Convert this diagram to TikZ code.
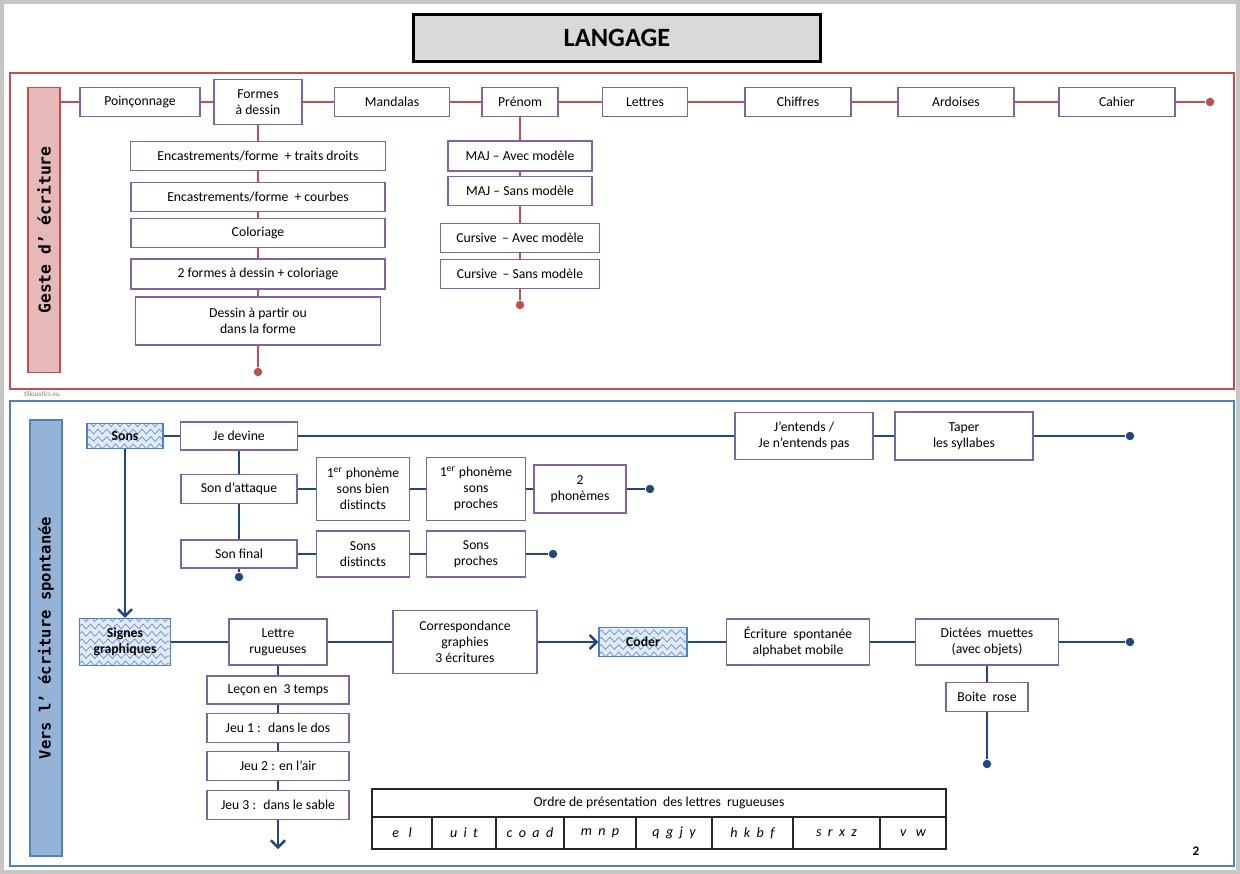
\documentclass[tikz,border=0pt]{standalone}
\usepackage{fontspec}
\setmainfont{Carlito}
\newfontfamily\labelfont{DejaVu Sans Mono}
\usetikzlibrary{arrows.meta,decorations.pathmorphing}

\definecolor{gesteRed}{RGB}{192,80,77}
\definecolor{gestePink}{RGB}{230,185,184}
\definecolor{boxPurple}{RGB}{128,100,162}
\definecolor{versBlue}{RGB}{79,129,189}
\definecolor{versFill}{RGB}{149,179,215}
\definecolor{navy}{RGB}{31,73,125}
\definecolor{hatchBg}{RGB}{225,234,246}
\definecolor{titleGray}{RGB}{217,217,217}

\tikzset{
  box/.style={draw=boxPurple, line width=0.7pt, fill=white, align=center, inner sep=1pt,
    font=\fontsize{7.8}{9.2}\selectfont},
  sz/.style 2 args={minimum width=#1*0.02cm, minimum height=#2*0.02cm},
  redline/.style={gesteRed, line width=1.2pt},
  blueline/.style={navy, line width=1.4pt},
  bluearrow/.style={navy, line width=1.4pt, -{Straight Barb[length=4pt, width=8pt]}},
  reddot/.style={circle, fill=gesteRed, inner sep=0pt, minimum size=0.17cm},
  bluedot/.style={circle, fill=navy, inner sep=0pt, minimum size=0.17cm},
  hatch/.style={draw=versBlue, line width=0.7pt, fill=hatchBg, align=center, inner sep=1pt,
    font=\fontsize{7.8}{9.2}\selectfont\bfseries,
    path picture={
      \foreach \k in {1,...,7}
        \draw[versBlue!85, line width=0.4pt, decorate,
              decoration={zigzag, segment length=5pt, amplitude=1.4pt}]
          ([yshift=\k*4.2pt-3pt]path picture bounding box.south west)
          -- ([yshift=\k*4.2pt-3pt]path picture bounding box.south east);
    }},
  cell/.style={draw=black!85, line width=0.6pt, inner sep=0pt,
    font=\fontsize{7.8}{9}\selectfont},
  letters/.style={cell, font=\fontsize{8}{9}\selectfont\itshape}
}

\begin{document}
\begin{tikzpicture}[x=0.02cm, y=-0.02cm]
\useasboundingbox[fill=white] (0,0) rectangle (1240,874);
\draw[gray!45, line width=2pt] (2,2) rectangle (1238,872);

% titre
\node[draw=black, line width=1.6pt, fill=titleGray, sz={407}{47},
  font=\fontsize{15}{18}\selectfont\bfseries] (titre) at (617,38) {LANGAGE};

% geste d'ecriture
\draw[gesteRed, line width=1.3pt] (10,73) rectangle (1234,389);
\node[draw=gesteRed, line width=0.8pt, fill=gestePink, sz={32}{285}] (geste) at (44,230) {};
\node[rotate=90, font=\labelfont\bfseries\fontsize{9.3}{11}\selectfont] (gesteText) at (geste) {Geste d’ écriture};
\node[font=\fontsize{4}{5}\selectfont, text=gray] (site) at (42,394) {tilloustics.eu};

\node[box, sz={120}{29}] (poinc) at (140,102) {Poinçonnage};
\node[box, sz={88}{45}] (formes) at (258,102) {Formes\\à dessin};
\node[box, sz={115}{29}] (mand) at (392,102) {Mandalas};
\node[box, sz={76}{29}] (prenom) at (520,102) {Prénom};
\node[box, sz={85}{29}] (lettres) at (645,102) {Lettres};
\node[box, sz={106}{29}] (chiffres) at (798,102) {Chiffres};
\node[box, sz={116}{29}] (ardoises) at (956,102) {Ardoises};
\node[box, sz={116}{29}] (cahier) at (1117,102) {Cahier};
\node[reddot] (gEnd) at (1210,102) {};

\node[box, sz={255}{29}] (enc1) at (258,156) {Encastrements/forme \ + traits droits};
\node[box, sz={254}{29}] (enc2) at (258,197) {Encastrements/forme \ + courbes};
\node[box, sz={254}{29}] (colo) at (258,233) {Coloriage};
\node[box, sz={254}{30}] (deux) at (258,274) {2 formes à dessin + coloriage};
\node[box, sz={245}{48}] (dessin) at (258,321) {Dessin à partir ou\\dans la forme};
\node[reddot] (fEnd) at (258,372) {};

\node[box, sz={144}{30}] (majA) at (520,156) {MAJ – Avec modèle};
\node[box, sz={144}{29}] (majS) at (520,191) {MAJ – Sans modèle};
\node[box, sz={159}{29}] (curA) at (520,238) {Cursive \,– Avec modèle};
\node[box, sz={159}{29}] (curS) at (520,274) {Cursive \,– Sans modèle};
\node[reddot] (pEnd) at (520,305) {};

\draw[redline] (geste.east |- poinc) -- (poinc);
\draw[redline] (poinc) -- (formes) -- (mand) -- (prenom) -- (lettres) -- (chiffres)
  -- (ardoises) -- (cahier) -- (gEnd);
\draw[redline] (formes) -- (enc1) -- (enc2) -- (colo) -- (deux) -- (dessin) -- (fEnd);
\draw[redline] (prenom) -- (majA) -- (majS) -- (curA) -- (curS) -- (pEnd);

% vers l'ecriture spontanee
\draw[versBlue, line width=1.5pt] (10,401) rectangle (1234,866);
\node[draw=versBlue, line width=0.8pt, fill=versFill, sz={32}{436}] (vers) at (46,638) {};
\node[rotate=90, font=\labelfont\bfseries\fontsize{8.8}{11}\selectfont] (versText) at (vers) {Vers l’ écriture spontanée};

\node[hatch, sz={76}{25}] (sons) at (125,436) {Sons};
\node[box, sz={117}{28}] (devine) at (239,436) {Je devine};
\node[box, sz={138}{47}] (entends) at (804,436) {J’entends /\\Je n’entends pas};
\node[box, sz={138}{48}] (taper) at (964,436) {Taper\\les syllabes};
\node[bluedot] (tEnd) at (1130,436) {};

\node[box, sz={116}{29}] (attaque) at (239,489) {Son d’attaque};
\node[box, sz={93}{63}] (ph1) at (363,489) {1\textsuperscript{er} phonème\\sons bien\\distincts};
\node[box, sz={99}{63}] (ph2) at (476,489) {1\textsuperscript{er} phonème\\sons\\proches};
\node[box, sz={92}{48}] (ph3) at (580,489) {2\\phonèmes};
\node[bluedot] (aEnd) at (650,489) {};

\node[box, sz={116}{28}] (final) at (239,554) {Son final};
\node[box, sz={93}{46}] (sd) at (363,554) {Sons\\distincts};
\node[box, sz={99}{46}] (sp) at (476,554) {Sons\\proches};
\node[bluedot] (spEnd) at (553,554) {};
\node[bluedot] (finEnd) at (239,577) {};

\node[hatch, sz={91}{47}] (signes) at (125,642) {Signes\\graphiques};
\node[box, sz={98}{46}] (lettre) at (278,642) {Lettre\\rugueuses};
\node[box, sz={144}{63}] (corr) at (465,642) {Correspondance\\graphies\\3 écritures};
\node[hatch, sz={88}{29}] (coder) at (643,642) {Coder};
\node[box, sz={143}{46}] (ecrit) at (798,642) {Écriture \ spontanée\\alphabet mobile};
\node[box, sz={143}{46}] (dictees) at (987,642) {Dictées \ muettes\\(avec objets)};
\node[bluedot] (dEnd) at (1130,642) {};
\node[box, sz={82}{29}] (boite) at (987,697) {Boite \ rose};
\node[bluedot] (bEnd) at (987,764) {};

\node[box, sz={142}{28}] (lecon) at (278,690) {Leçon en \ 3 temps};
\node[box, sz={142}{29}] (jeu1) at (278,728) {Jeu 1 : \ dans le dos};
\node[box, sz={142}{29}] (jeu2) at (278,766) {Jeu 2 : en l’air};
\node[box, sz={142}{29}] (jeu3) at (278,805) {Jeu 3 : \ dans le sable};
\coordinate (jEnd) at (278,849);

\draw[blueline] (sons) -- (devine) -- (entends) -- (taper) -- (tEnd);
\draw[blueline] (devine) -- (attaque) -- (final) -- (finEnd);
\draw[blueline] (attaque) -- (ph1) -- (ph2) -- (ph3) -- (aEnd);
\draw[blueline] (final) -- (sd) -- (sp) -- (spEnd);
\draw[bluearrow] (sons) -- (signes);
\draw[blueline] (signes) -- (lettre) -- (corr);
\draw[bluearrow] (corr) -- (coder);
\draw[blueline] (coder) -- (ecrit) -- (dictees) -- (dEnd);
\draw[blueline] (dictees) -- (boite) -- (bEnd);
\draw[blueline] (lettre) -- (lecon) -- (jeu1) -- (jeu2) -- (jeu3);
\draw[bluearrow] (jeu3) -- (jEnd);

% ordre des lettres rugueuses
\node[cell, sz={574}{28}] (ordre) at (659,803) {Ordre de présentation \ des lettres \ rugueuses};
\node[letters, sz={60}{32}] (l1) at (402,833) {e\ \ \ l};
\node[letters, sz={64}{32}] (l2) at (464,833) {u\ \ i\ \ t};
\node[letters, sz={68}{32}] (l3) at (530,833) {c\ \ o\ \ a\ \ d};
\node[letters, sz={72}{32}] (l4) at (600,833) {m\ \ n\ \ p};
\node[letters, sz={76}{32}] (l5) at (674,833) {q\ \ g\ \ j\ \ y};
\node[letters, sz={81}{32}] (l6) at (752.5,833) {h\ \ k\ \ b\ \ f};
\node[letters, sz={87}{32}] (l7) at (836.5,833) {s\ \ r\ \ x\ \ z};
\node[letters, sz={66}{32}] (l8) at (913,833) {v\ \ \ w};

\node[font=\fontsize{7.5}{9}\selectfont\bfseries] (page) at (1196,851) {2};
\end{tikzpicture}
\end{document}
